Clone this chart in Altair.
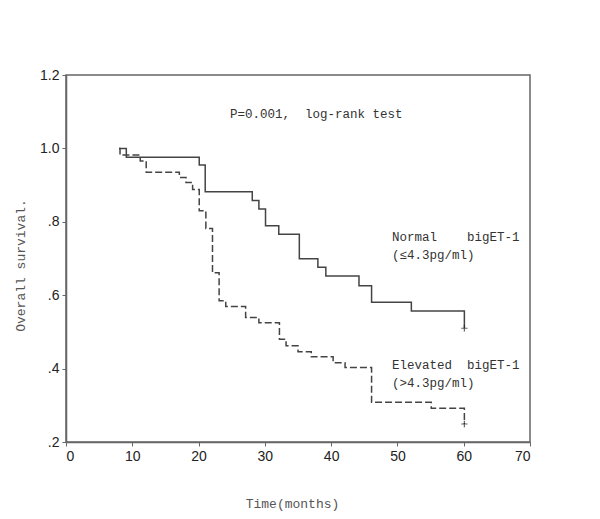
import altair as alt
import pandas as pd

# Normal bigET-1 (solid)
normal_t = [8.0, 9.1, 20.1, 21.0, 28.1, 29.1, 30.1, 32.1, 35.2, 38.0, 39.2, 44.2, 46.1, 52.1, 60.1]
normal_s = [1.0, 0.976, 0.955, 0.882, 0.858, 0.835, 0.789, 0.766, 0.699, 0.676, 0.652, 0.626, 0.581, 0.557, 0.51]

# Elevated bigET-1 (dashed)
elev_t = [8.0, 8.15, 11.2, 12.1, 17.1, 18.1, 19.1, 20.1, 21.1, 22.1, 23.1, 24.1, 27.1, 29.1,
          32.2, 33.2, 35.0, 37.0, 40.3, 42.1, 46.1, 55.1, 60.1]
elev_s = [1.0, 0.982, 0.966, 0.935, 0.921, 0.907, 0.888, 0.830, 0.782, 0.661, 0.585, 0.569, 0.539, 0.525,
          0.480, 0.462, 0.446, 0.432, 0.416, 0.403, 0.308, 0.292, 0.249]

# censored marks
cens_t = [60.1, 60.1]
cens_s = [0.51, 0.249]

x_ticks = [0, 10, 20, 30, 40, 50, 60, 70]
y_ticks = [0.2, 0.4, 0.6, 0.8, 1.0, 1.2]

normal_df = pd.DataFrame({"t": normal_t, "s": normal_s})
elev_df = pd.DataFrame({"t": elev_t, "s": elev_s})
cens_df = pd.DataFrame({"t": cens_t, "s": cens_s})

MONO = "Liberation Mono"
NB = "\u00a0"

xs = alt.Scale(domain=[0, 70], nice=False, zero=False)
ys = alt.Scale(domain=[0.2, 1.2], nice=False, zero=False)

x_enc = alt.X("t:Q", scale=xs, axis=alt.Axis(
    values=x_ticks, title="Time(months)", grid=False,
    labelFont="Liberation Sans", labelFontSize=14, labelColor="#222", labelPadding=3,
    tickSize=4, tickColor="#666", domainColor="#666", domainWidth=1.5,
    titleFont=MONO, titleFontSize=13, titleFontWeight="normal", titleColor="#555",
    titleX=226, titleY=61, titleBaseline="middle", titleAlign="center"))
y_enc = alt.Y("s:Q", scale=ys, axis=alt.Axis(
    values=y_ticks, title="Overall survival.", grid=False,
    labelExpr="datum.value >= 1 ? format(datum.value, '.1f') : replace(format(datum.value, '.1f'), '0.', '.')",
    labelFont="Liberation Sans", labelFontSize=14, labelColor="#222", labelPadding=3,
    tickSize=4, tickColor="#666", domainColor="#666", domainWidth=1.5,
    titleFont=MONO, titleFontSize=13, titleFontWeight="normal", titleColor="#555",
    titleX=-46, titleY=190, titleAngle=270, titleBaseline="middle", titleAlign="center"))

normal_line = alt.Chart(normal_df).mark_line(
    interpolate="step-after", color="#444", strokeWidth=1.5
).encode(x=x_enc, y=y_enc)

elev_line = alt.Chart(elev_df).mark_line(
    interpolate="step-after", color="#444", strokeWidth=1.5, strokeDash=[7, 3]
).encode(x="t:Q", y="s:Q")

cens = alt.Chart(cens_df).mark_point(
    shape="M-1,0L1,0M0,-1L0,1", size=40, filled=False, color="#222", strokeWidth=1.2
).encode(x="t:Q", y="s:Q")

labels = ["P=0.001," + NB * 2 + "log-rank" + NB + "test",
          "Normal" + NB * 4 + "bigET-1",
          "(≤4.3pg/ml)",
          "Elevated" + NB * 2 + "bigET-1",
          "(>4.3pg/ml)"]
lx = [164, 326, 326, 326, 326]
ly = [39, 162, 180, 290, 308]

texts = []
for lab, px, py in zip(labels, lx, ly):
    texts.append(alt.Chart(pd.DataFrame({"label": [lab]})).mark_text(
        font=MONO, fontSize=12.5, color="#333", align="left", baseline="middle"
    ).encode(text="label:N", x=alt.value(px), y=alt.value(py)))

chart = alt.layer(normal_line, elev_line, cens, *texts).properties(
    width=464, height=367,
    autosize=alt.AutoSizeParams(type="none"),
    padding={"left": 58, "top": 67, "right": 62, "bottom": 69},
    background="white"
).configure_view(stroke="#666", strokeWidth=1.5)

chart.save("out.html", embed_options={"renderer": "svg", "actions": False})
